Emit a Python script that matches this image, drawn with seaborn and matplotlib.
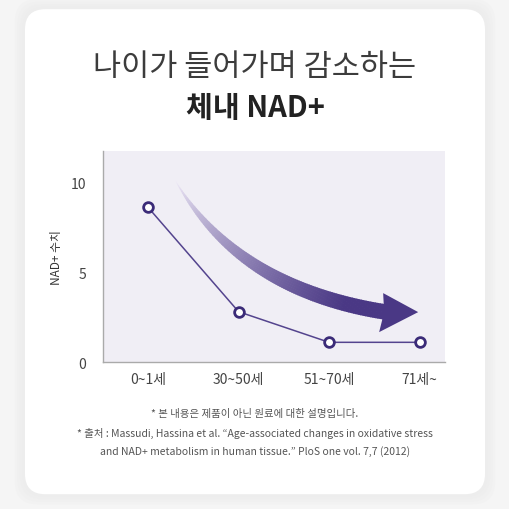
import numpy as np
import pandas as pd
import matplotlib
matplotlib.use("Agg")
import matplotlib.pyplot as plt
import seaborn as sns
from matplotlib.patches import FancyBboxPatch, Polygon
from matplotlib.collections import PolyCollection

# ---- data ----
age_groups = ["0~1세", "30~50세", "51~70세", "71세~"]
nad_values = [8.6, 2.8, 1.1, 1.1]
y_ticks = [0, 5, 10]
title_line1 = "나이가 들어가며 감소하는"
title_line2 = "체내 NAD+"
y_label = "NAD+ 수치"
note1 = "* 본 내용은 제품이 아닌 원료에 대한 설명입니다."
note2 = "* 출처 : Massudi, Hassina et al. \u201cAge-associated changes in oxidative stress"
note3 = "and NAD+ metabolism in human tissue.\u201d PloS one vol. 7,7 (2012)"

sns.set_theme(style="white")
plt.rcParams["font.family"] = ["Noto Sans CJK KR", "DejaVu Sans"]

fig = plt.figure(figsize=(5.1, 5.1), dpi=100)
fig.patch.set_facecolor("#f5f5f5")

# card with soft shadow
for i in range(4):
    g = (4 - i) * 0.005
    fig.patches.append(FancyBboxPatch((0.049 - g, 0.029 - g), 0.902 + 2 * g, 0.951 + 2 * g,
                                      boxstyle="round,pad=0,rounding_size=0.045",
                                      transform=fig.transFigure, facecolor="#ececec",
                                      edgecolor="none", alpha=0.3, zorder=-3))
fig.patches.append(FancyBboxPatch((0.049, 0.029), 0.902, 0.951,
                                  boxstyle="round,pad=0,rounding_size=0.04",
                                  transform=fig.transFigure, facecolor="white",
                                  edgecolor="none", zorder=-2))

ax = fig.add_axes([0.202, 0.288, 0.6706, 0.4137])
ax.set_zorder(2)
ax.set_facecolor("#f0eef5")

df = pd.DataFrame({"age": age_groups, "nad": nad_values})
sns.lineplot(data=df, x="age", y="nad", sort=False, ax=ax, color="#54448e", linewidth=1.1,
             marker="o", markersize=7, markerfacecolor="white",
             markeredgecolor="#3b2b78", markeredgewidth=2, zorder=5)

ax.set_xlim(-0.497, 3.28)
ax.set_ylim(0, 11.72)
ax.set_yticks(y_ticks)
ax.set_xlabel("")
ax.set_ylabel(y_label, fontsize=8.5, color="#333333", labelpad=6)
ax.tick_params(axis="both", length=0, labelsize=10, labelcolor="#444444")
ax.tick_params(axis="y", pad=12)
ax.tick_params(axis="x", pad=7)
for s in ["top", "right"]:
    ax.spines[s].set_visible(False)
for s in ["left", "bottom"]:
    ax.spines[s].set_color("#aaaaaa")
    ax.spines[s].set_linewidth(1.0)

# ---- decorative gradient arrow (reference pixel space -> data) ----
def px2d(px, py):
    return (px - 148) / 90.5, (363 - py) / 18.0

P0 = np.array([175.0, 181.0])
P1 = np.array([238.0, 290.0])
P2 = np.array([386.0, 313.0])
N = 120
t = np.linspace(0, 1, N)
C = ((1 - t) ** 2)[:, None] * P0 + (2 * (1 - t) * t)[:, None] * P1 + (t ** 2)[:, None] * P2
D = (2 * (1 - t))[:, None] * (P1 - P0) + (2 * t)[:, None] * (P2 - P1)
D /= np.linalg.norm(D, axis=1)[:, None]
Nrm = np.stack([-D[:, 1], D[:, 0]], axis=1)
w = 15.5 * (1 - (1 - t) ** 2.2) / 2
U = C + Nrm * w[:, None]
L = C - Nrm * w[:, None]
c0 = np.array([0.95, 0.93, 0.98])
c1 = np.array([0.29, 0.22, 0.52])
polys, cols = [], []
for i in range(N - 1):
    quad = [U[i], U[i + 1] + (U[i + 1] - U[i]) * 0.3, L[i + 1] + (L[i + 1] - L[i]) * 0.3, L[i]]
    polys.append([px2d(*p) for p in quad])
    f = min(1.0, (t[i] / 0.85)) ** 0.75
    cols.append(c0 * (1 - f) + c1 * f)
ax.add_collection(PolyCollection(polys, facecolors=cols, edgecolors="none", zorder=3))
head = [px2d(383, 294), px2d(418, 313), px2d(379, 333), px2d(384, 313)]
ax.add_patch(Polygon(head, closed=True, facecolor=c1, edgecolor="none", zorder=3))

# ---- texts ----
fig.text(0.5, 0.867, title_line1, ha="center", va="center", fontsize=22,
         color="#3c3c3c", fontweight="light")
fig.text(0.5, 0.788, title_line2, ha="center", va="center", fontsize=21,
         color="#222222", fontweight="bold")
fig.text(0.5, 0.188, note1, ha="center", va="center", fontsize=7.5, color="#555555")
fig.text(0.5, 0.151, note2, ha="center", va="center", fontsize=7.5, color="#555555")
fig.text(0.5, 0.114, note3, ha="center", va="center", fontsize=7.5, color="#555555")

fig.savefig("out.png", dpi=100, facecolor=fig.get_facecolor())
